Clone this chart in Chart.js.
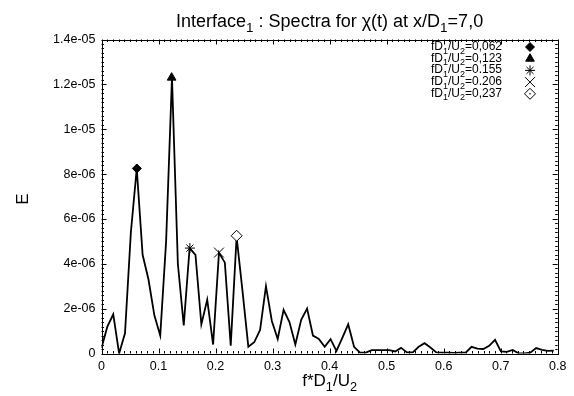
<!DOCTYPE html>
<html>
<head>
<meta charset="utf-8">
<script src="https://cdn.jsdelivr.net/npm/chart.js@4.4.1/dist/chart.umd.min.js"></script>
<style>
  html, body { margin: 0; padding: 0; background: #fff; }
  canvas { display: block; }
</style>
</head>
<body>
<canvas id="plot" width="574" height="396"></canvas>
<script>
// spectrum samples (energy in units of 1e-6)
var freqs = [0, 0.0103, 0.0206, 0.0309, 0.0412, 0.0515, 0.0618, 0.0721, 0.0824, 0.0927,
  0.103, 0.1133, 0.1236, 0.1339, 0.1442, 0.1545, 0.1648, 0.1751, 0.1854, 0.1957,
  0.206, 0.2163, 0.2266, 0.2369, 0.2472, 0.2575, 0.2678, 0.2781, 0.2884, 0.2987,
  0.309, 0.3193, 0.3296, 0.3399, 0.3502, 0.3605, 0.3708, 0.3811, 0.3914, 0.4017,
  0.412, 0.4223, 0.4326, 0.4429, 0.4532, 0.4635, 0.4738, 0.4841, 0.4944, 0.5047,
  0.515, 0.5253, 0.5356, 0.5459, 0.5562, 0.5665, 0.5768, 0.5871, 0.5974, 0.6077,
  0.618, 0.6283, 0.6386, 0.6489, 0.6592, 0.6695, 0.6798, 0.6901, 0.7004, 0.7107,
  0.721, 0.7313, 0.7416, 0.7519, 0.7622, 0.7725, 0.7828, 0.7931];
var energy = [0.25, 1.2, 1.75, 0, 0.9, 5.4, 8.25, 4.4, 3.3, 1.7,
  0.8, 5.0, 12.3, 4.0, 1.25, 4.7, 4.4, 1.3, 2.4, 0.4,
  4.5, 4.05, 0.35, 5.2, 2.8, 0.3, 0.5, 1.05, 3.0, 1.45,
  0.65, 1.95, 1.4, 0.4, 1.5, 2.0, 0.8, 0.65, 0.3, 0.64,
  0.12, 0.7, 1.3, 0.3, 0.04, 0.04, 0.15, 0.15, 0.15, 0.15,
  0.09, 0.25, 0.05, 0.05, 0.3, 0.46, 0.27, 0.05, 0.04, 0.04,
  0.03, 0.04, 0.04, 0.3, 0.22, 0.2, 0.34, 0.61, 0.09, 0.07,
  0.16, 0.01, 0.01, 0.04, 0.24, 0.16, 0.12, 0.13];

var peakFreqs = [0.062, 0.123, 0.155, 0.206, 0.237];
var peakEnergy = [8.25, 12.3, 4.7, 4.5, 5.25];
var peakLabels = ['0,062', '0,123', '0.155', '0.206', '0,237'];

var xTickLabels = ['0', '0.1', '0.2', '0.3', '0.4', '0.5', '0.6', '0.7', '0.8'];
var yTickLabels = ['0', '2e-06', '4e-06', '6e-06', '8e-06', '1e-05', '1.2e-05', '1.4e-05'];

// marker looks for the five peaks
var peakStyles = [
  { style: 'rectRot', r: 4.5, fill: '#000' },
  { style: 'triangle', r: 5, fill: '#000' },
  { style: 'star', r: 5, fill: '#000' },
  { style: 'crossRot', r: 7, fill: '#000' },
  { style: 'rectRot', r: 5.5, fill: '#fff' }
];

var FONT = "'Liberation Sans', Arial, sans-serif";

var lineData = freqs.map(function (f, i) { return { x: f, y: energy[i] * 1e-6 }; });

var datasets = [];
peakFreqs.forEach(function (f, i) {
  var s = peakStyles[i];
  datasets.push({
    data: [{ x: f, y: peakEnergy[i] * 1e-6 }],
    showLine: false,
    pointStyle: s.style,
    pointRadius: s.r,
    pointBackgroundColor: s.fill,
    pointBorderColor: '#000',
    pointBorderWidth: 1,
    order: 0
  });
});
// dot inside the open diamond
datasets.push({
  data: [{ x: peakFreqs[4], y: peakEnergy[4] * 1e-6 }],
  showLine: false, pointStyle: 'circle', pointRadius: 0.8,
  pointBackgroundColor: '#000', pointBorderWidth: 0, order: 0
});
datasets.push({
  data: lineData,
  borderColor: '#000',
  borderWidth: 1.8,
  pointRadius: 0,
  tension: 0,
  fill: false,
  order: 1
});

function drawRich(ctx, parts, x, y, size, align) {
  var w = 0;
  parts.forEach(function (p) {
    ctx.font = (p.sub ? size * 0.75 : size) + 'px ' + FONT;
    p.w = ctx.measureText(p.t).width;
    w += p.w;
  });
  var cx = align === 'center' ? x - w / 2 : (align === 'right' ? x - w : x);
  ctx.textAlign = 'left';
  ctx.textBaseline = 'alphabetic';
  parts.forEach(function (p) {
    ctx.font = (p.sub ? size * 0.75 : size) + 'px ' + FONT;
    ctx.fillText(p.t, cx, p.sub ? y + size * 0.3 : y);
    cx += p.w;
  });
}

function drawMarker(ctx, m, x, y) {
  var r = m.r;
  ctx.beginPath();
  if (m.style === 'rectRot') {
    ctx.moveTo(x, y - r); ctx.lineTo(x + r, y); ctx.lineTo(x, y + r); ctx.lineTo(x - r, y);
    ctx.closePath();
    ctx.fillStyle = m.fill; ctx.fill(); ctx.stroke();
  } else if (m.style === 'triangle') {
    ctx.moveTo(x, y - r); ctx.lineTo(x + 0.866 * r, y + 0.5 * r); ctx.lineTo(x - 0.866 * r, y + 0.5 * r);
    ctx.closePath();
    ctx.fillStyle = m.fill; ctx.fill(); ctx.stroke();
  } else if (m.style === 'star') {
    var d = 0.707 * r;
    ctx.moveTo(x - r, y); ctx.lineTo(x + r, y);
    ctx.moveTo(x, y - r); ctx.lineTo(x, y + r);
    ctx.moveTo(x - d, y - d); ctx.lineTo(x + d, y + d);
    ctx.moveTo(x - d, y + d); ctx.lineTo(x + d, y - d);
    ctx.stroke();
  } else if (m.style === 'crossRot') {
    var e = 0.707 * r;
    ctx.moveTo(x - e, y - e); ctx.lineTo(x + e, y + e);
    ctx.moveTo(x - e, y + e); ctx.lineTo(x + e, y - e);
    ctx.stroke();
  }
}

var decor = {
  id: 'decor',
  afterDraw: function (chart) {
    var ctx = chart.ctx, a = chart.chartArea;
    var xs = chart.scales.x, ys = chart.scales.y;
    ctx.save();
    ctx.strokeStyle = '#000';
    ctx.lineWidth = 1;
    ctx.strokeRect(Math.round(a.left) + 0.5, Math.round(a.top) + 0.5,
      Math.round(a.right) - Math.round(a.left), Math.round(a.bottom) - Math.round(a.top));

    // inward ticks on all four sides
    ctx.beginPath();
    for (var i = 0; i <= 80; i++) {
      var px = Math.round(xs.getPixelForValue(i / 100)) + 0.5;
      var len = i % 10 === 0 ? 5 : 2.5;
      ctx.moveTo(px, a.bottom); ctx.lineTo(px, a.bottom - len);
      ctx.moveTo(px, a.top); ctx.lineTo(px, a.top + len);
    }
    for (var j = 0; j <= 70; j++) {
      var py = Math.round(ys.getPixelForValue(j * 2e-7)) + 0.5;
      var l2 = j % 10 === 0 ? 5 : 2.5;
      ctx.moveTo(a.left, py); ctx.lineTo(a.left + l2, py);
      ctx.moveTo(a.right, py); ctx.lineTo(a.right - l2, py);
    }
    ctx.stroke();

    ctx.fillStyle = '#000';
    // title
    drawRich(ctx, [{ t: 'Interface' }, { t: '1', sub: true }, { t: ' : Spectra for \u03c7(t) at x/D' },
      { t: '1', sub: true }, { t: '=7,0' }], (a.left + a.right) / 2, 27, 18, 'center');
    // x axis title
    drawRich(ctx, [{ t: 'f*D' }, { t: '1', sub: true }, { t: '/U' }, { t: '2', sub: true }],
      (a.left + a.right) / 2, 386, 17, 'center');
    // y axis title
    ctx.save();
    ctx.translate(28, 199);
    ctx.rotate(-Math.PI / 2);
    ctx.font = '17px ' + FONT;
    ctx.textAlign = 'center';
    ctx.fillText('E', 0, 0);
    ctx.restore();

    // legend
    for (var k = 0; k < peakLabels.length; k++) {
      var ty = 50 + k * 11.7;
      ctx.fillStyle = '#000';
      drawRich(ctx, [{ t: 'fD' }, { t: '1', sub: true }, { t: '/U' }, { t: '2', sub: true },
        { t: '=' + peakLabels[k] }], 502, ty, 12, 'right');
      drawMarker(ctx, peakStyles[k], 530, ty - 3);
    }
    ctx.beginPath();
    ctx.arc(530, 50 + 4 * 11.7 - 3, 0.8, 0, Math.PI * 2);
    ctx.fillStyle = '#000';
    ctx.fill();
    ctx.restore();
  }
};

new Chart(document.getElementById('plot'), {
  type: 'line',
  data: { datasets: datasets },
  options: {
    responsive: false,
    animation: false,
    devicePixelRatio: 1,
    layout: { padding: { top: 39.5, right: 16.3, left: 0, bottom: 0 } },
    plugins: { legend: { display: false }, tooltip: { enabled: false }, title: { display: false } },
    scales: {
      x: {
        type: 'linear', min: 0, max: 0.8,
        grid: { display: false, drawTicks: false, tickLength: 0 }, border: { display: false },
        ticks: {
          stepSize: 0.1, padding: 6, color: '#000', maxRotation: 0,
          font: { family: FONT, size: 12.5 },
          callback: function (v, i) { return xTickLabels[i]; }
        },
        afterFit: function (s) { s.height = 42.5; }
      },
      y: {
        type: 'linear', min: 0, max: 1.4e-5,
        grid: { display: false, drawTicks: false, tickLength: 0 }, border: { display: false },
        ticks: {
          stepSize: 2e-6, padding: 6, color: '#000',
          font: { family: FONT, size: 12.5 },
          callback: function (v, i) { return yTickLabels[i]; }
        },
        afterFit: function (s) { s.width = 101.5; }
      }
    }
  },
  plugins: [decor]
});
</script>
</body>
</html>
